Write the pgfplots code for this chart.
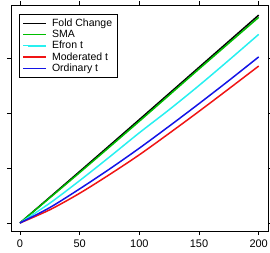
\documentclass[border=0pt]{standalone}
\usepackage{fontspec}
\setmainfont{Liberation Sans}
\usepackage{pgfplots}
\pgfplotsset{compat=1.18}
\begin{document}
\begin{tikzpicture}
\begin{axis}[
  name=ax,
  scale only axis,
  width=257pt, height=226pt,
  xmin=-7.5, xmax=207.8,
  ymin=-7.3, ymax=198.2,
  xtick={0,50,100,150,200},
  ytick={0,50,100,150},
  yticklabels={},
  tick align=outside,
  major tick length=4pt,
  tick style={black, line width=0.6pt},
  axis line style={black, line width=0.7pt},
  /pgf/number format/assume math mode=true,
  ticklabel style={font=\fontsize{11}{13}\selectfont},
  xticklabel style={yshift=-1pt},
  legend style={at={(0.032,0.96)}, anchor=north west, draw=black, line width=0.6pt,
    font=\fontsize{10.5}{11}\selectfont, inner xsep=3pt, inner ysep=2.5pt,
    cells={anchor=west}, row sep=-1.8pt, column sep=3pt},
  legend image code/.code={\path (0pt,0pt) -- (23pt,0pt); \draw[line width=1.6pt] (5pt,0pt) -- (23pt,0pt);},
  every axis plot/.append style={line width=1.5pt, smooth},
]
\addplot[color=black] coordinates {(0,0) (50,46.8) (100,94) (150,141.5) (200,189)};
\addlegendentry{Fold Change}
\addplot[color={rgb,255:red,0;green,190;blue,0}] coordinates {(0,0) (50,45.8) (100,92.5) (150,140) (200,187)};
\addlegendentry{SMA}
\addplot[color={rgb,255:red,40;green,240;blue,240}] coordinates {(0,0) (25,18) (50,38.5) (75,60) (100,82) (125,103) (150,125) (175,148) (200,171.5)};
\addlegendentry{Efron t}
\addplot[color={rgb,255:red,240;green,20;blue,20}] coordinates {(0,0) (25,12) (50,27) (75,44) (100,62) (125,81.5) (150,101.5) (175,122) (200,142.7)};
\addlegendentry{Moderated t}
\addplot[color={rgb,255:red,20;green,20;blue,230}] coordinates {(0,0) (25,14) (50,31) (75,49) (100,68) (125,88) (150,108.5) (175,129.5) (200,151)};
\addlegendentry{Ordinary t}
\end{axis}
\pgfresetboundingbox
\path ([shift={(-11pt,-21pt)}]ax.south west) rectangle ([shift={(2pt,5pt)}]ax.north east);
\end{tikzpicture}
\end{document}
